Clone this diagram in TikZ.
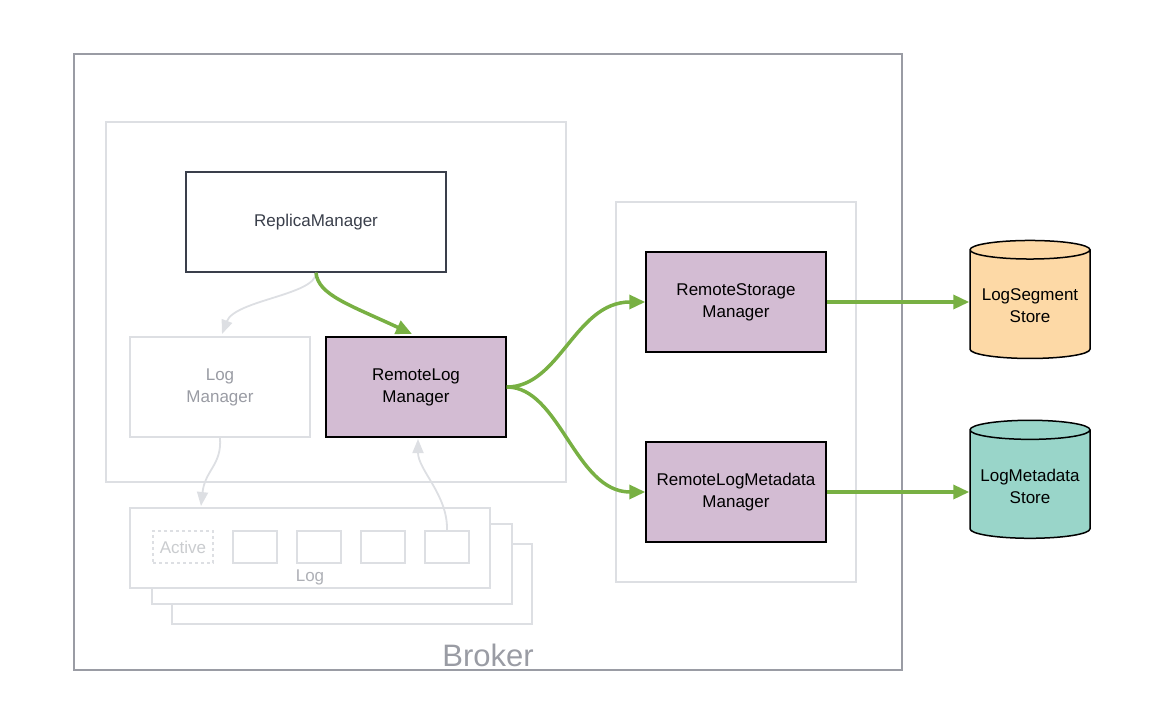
\documentclass[tikz,border=0pt]{standalone}
\usepackage{fontspec}
\setmainfont{Liberation Sans}
\usetikzlibrary{shapes.geometric,arrows.meta}
\definecolor{brokergray}{HTML}{9A9CA4}
\definecolor{paleline}{HTML}{DDDFE3}
\definecolor{darkline}{HTML}{3A3F4B}
\definecolor{mauve}{HTML}{D3BCD3}
\definecolor{flow}{HTML}{78B043}
\definecolor{peach}{HTML}{FDD9A6}
\definecolor{mint}{HTML}{99D5C9}
\tikzset{
  comp/.style={draw=black,line width=1.5pt,fill=mauve,align=center,font=\fontsize{17}{22}\selectfont,text depth=3pt},
  pale/.style={draw=paleline,line width=1.5pt,fill=white},
  store/.style={cylinder,shape border rotate=90,draw=black,line width=1.5pt,aspect=0.18,
    minimum width=120pt,minimum height=118pt,align=center,font=\fontsize{17}{22}\selectfont},
  flowarrow/.style={flow,line width=3.5pt,-{Triangle[length=16pt,width=14pt]}},
  palearrow/.style={paleline,line width=1.8pt,-{Triangle[length=14pt,width=11pt]}}
}
\begin{document}
\begin{tikzpicture}[x=1pt,y=-1pt]
\useasboundingbox (0,0) rectangle (1164,725);
% containers
\draw[brokergray,line width=1.5pt] (74,54) rectangle (902,670);
\node[brokergray,font=\fontsize{31}{36}\selectfont] (broker) at (488,655) {Broker};
\draw[paleline,line width=1.5pt] (106,122) rectangle (566,482);
\draw[paleline,line width=1.5pt] (616,202) rectangle (856,582);
% log stack
\draw[pale] (172,544) rectangle (532,624);
\draw[pale] (152,524) rectangle (512,604);
\draw[pale] (130,508) rectangle (490,588);
\node[draw=paleline,line width=1.5pt,dashed,minimum width=60pt,minimum height=32pt,text=paleline!80!gray,
  font=\fontsize{17}{20}\selectfont] (active) at (183,547) {Active};
\foreach \x/\name in {255/segA,319/segB,383/segC,447/segD}
  \node[draw=paleline,line width=1.5pt,minimum width=44pt,minimum height=32pt] (\name) at (\x,547) {};
\node[text=brokergray!80,font=\fontsize{17}{20}\selectfont] (log) at (310,577) {Log};
% components
\node[comp,fill=white,draw=darkline,minimum width=260pt,minimum height=100pt,text=darkline] (replica) at (316,222) {ReplicaManager};
\node[comp,fill=white,draw=paleline,text=brokergray,minimum width=180pt,minimum height=100pt] (logmgr) at (220,387) {Log\\Manager};
\node[comp,minimum width=180pt,minimum height=100pt] (remotelog) at (416,387) {RemoteLog\\Manager};
\node[comp,minimum width=180pt,minimum height=100pt] (storage) at (736,302) {RemoteStorage\\Manager};
\node[comp,minimum width=180pt,minimum height=100pt] (metadata) at (736,492) {RemoteLogMetadata\\Manager};
\node[store,fill=peach] (segstore) at (1030,306) {LogSegment\\Store};
\node[store,fill=mint] (metastore) at (1030,486) {LogMetadata\\Store};
% flows
\draw[palearrow] (replica.south) .. controls (316,295) and (235,300) .. (222,334);
\draw[palearrow] (logmgr.south) .. controls (222,465) and (205,470) .. (201,506);
\draw[palearrow] (segD.north) .. controls (448,495) and (418,470) .. (418,439);
\draw[flowarrow] (replica.south) .. controls (318,295) and (350,305) .. (412,334);
\draw[flowarrow] (remotelog.east) .. controls (560,387) and (575,302) .. (storage.west);
\draw[flowarrow] (remotelog.east) .. controls (560,387) and (575,492) .. (metadata.west);
\draw[flowarrow] (storage.east) -- (segstore.west |- storage.east);
\draw[flowarrow] (metadata.east) -- (metastore.west |- metadata.east);
\end{tikzpicture}
\end{document}
